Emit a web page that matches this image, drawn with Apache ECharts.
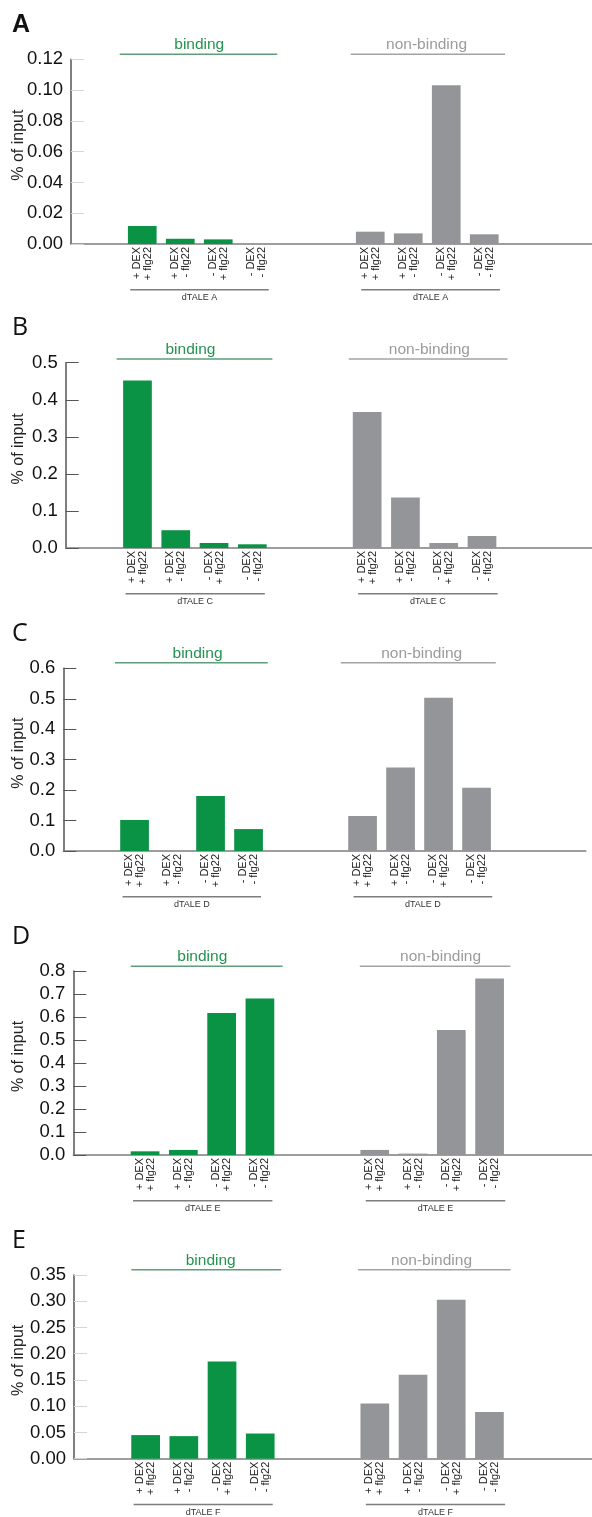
<!DOCTYPE html>
<html><head><meta charset="utf-8">
<script src="https://cdn.jsdelivr.net/npm/echarts@6/dist/echarts.min.js"></script>
<style>html,body{margin:0;padding:0;background:#fff}#c{width:592px;height:1517px}</style>
</head><body><div id="c"></div>
<script>
// ---- data ----
const panelLetters = ['A', 'B', 'C', 'D', 'E'];
const constructNames = ['dTALE A', 'dTALE C', 'dTALE D', 'dTALE E', 'dTALE F'];
const conditions = ['+ DEX\n+ flg22', '+ DEX\n- flg22', '- DEX\n+ flg22', '- DEX\n- flg22'];
const groupNames = ['binding', 'non-binding'];
const yAxisTitle = '% of input';

const bindingA = [0.0117, 0.0034, 0.0030, 0.0];
const nonBindingA = [0.0080, 0.0069, 0.1032, 0.0063];
const bindingB = [0.452, 0.048, 0.0135, 0.010];
const nonBindingB = [0.367, 0.136, 0.0135, 0.0324];
const bindingC = [0.102, 0.0, 0.181, 0.072];
const nonBindingC = [0.115, 0.274, 0.503, 0.208];
const bindingD = [0.016, 0.022, 0.617, 0.680];
const nonBindingD = [0.022, 0.006, 0.543, 0.767];
const bindingE = [0.045, 0.043, 0.185, 0.048];
const nonBindingE = [0.105, 0.160, 0.303, 0.089];

const yMax = [0.12, 0.5, 0.6, 0.8, 0.35];
const yStep = [0.02, 0.1, 0.1, 0.1, 0.05];
const yDecimals = [2, 1, 1, 1, 2];

// ---- layout / style ----
const panelValues = [
  [bindingA, nonBindingA], [bindingB, nonBindingB], [bindingC, nonBindingC],
  [bindingD, nonBindingD], [bindingE, nonBindingE]
];
const layout = [
  {left: 71,   top: 59.3,  h: 184.7, w: 9.5,  n: 56, tick: '#d6d6d6', hdr: -5,   pads: [[-22.5, 21], [-19.5, 20.8]], tx: [0, -0.7]},
  {left: 65.7, top: 362.7, h: 185.3, w: 9.57, n: 56, tick: '#555555', hdr: -3.7, pads: [[-20.8, 20.1], [-18.3, 25.5]], tx: [-4.4, 4.8]},
  {left: 63.3, top: 668.3, h: 182.7, w: 9.5,  n: 55, tick: '#555555', hdr: -5.6, pads: [[-19.5, 19.2], [-21.7, 19.2]], tx: [6, 2.1]},
  {left: 73.3, top: 971,   h: 184,   w: 9.57, n: 56, tick: '#555555', hdr: -4.7, pads: [[-14.3, 22.7], [-15, 20.8]],   tx: [-0.2, 8.4]},
  {left: 74,   top: 1275,  h: 183.7, w: 9.55, n: 56, tick: '#d6d6d6', hdr: -5.3, pads: [[-14.3, 21], [-16.7, 21.2]],   tx: [7.8, -0.6]}
];
const slotIdx = [[7, 11, 15, 19], [31, 35, 39, 43]];
const barColors = ['#0a9245', '#939598'];
const hdrTextColors = ['#23944f', '#9b9b9b'];
const hdrLineColors = ['#5e9e78', '#a3a3a3'];
const bracketPad = [[-12, 12.5], [-9, 15.7]];
const nameCenterX = 19;
const FONT = 'Liberation Sans, Arial, sans-serif';

const chart = echarts.init(document.getElementById('c'), null, {renderer: 'canvas'});

const grid = [], xAxis = [], yAxis = [], series = [];
layout.forEach((L, p) => {
  grid.push({left: L.left, top: L.top, height: L.h, width: L.n * L.w,
    containLabel: false, outerBoundsMode: 'none'});
  const cats = new Array(L.n).fill('');
  const data = new Array(L.n).fill('-');
  for (let g = 0; g < 2; g++) {
    slotIdx[g].forEach((idx, k) => {
      cats[idx] = conditions[k];
      data[idx] = {value: panelValues[p][g][k], itemStyle: {color: barColors[g]}};
    });
  }
  xAxis.push({
    type: 'category', gridIndex: p, data: cats, boundaryGap: true,
    axisLine: {show: true, lineStyle: {color: '#7d7d7d', width: 1.5}},
    axisTick: {show: false},
    axisLabel: {interval: 0, rotate: 90, margin: 3, fontSize: 11, lineHeight: 11,
      color: '#222', fontFamily: FONT}
  });
  yAxis.push({
    type: 'value', gridIndex: p, min: 0, max: yMax[p], interval: yStep[p],
    splitLine: {show: false},
    axisLine: {show: true, lineStyle: {color: '#555', width: 1.5}},
    axisTick: {show: true, inside: true, length: 13, lineStyle: {color: L.tick, width: 1}},
    axisLabel: {fontSize: 18.5, color: '#111', fontFamily: FONT, margin: 8,
      formatter: v => Number(v).toFixed(yDecimals[p])},
    name: yAxisTitle, nameLocation: 'middle', nameGap: L.left - nameCenterX - 8,
    nameMoveOverlap: false,
    nameTextStyle: {fontSize: 16, color: '#222', fontFamily: FONT, padding: [0, 0, 0, 13]}
  });
  series.push({
    type: 'bar', xAxisIndex: p, yAxisIndex: p, data: data, barWidth: 28.7,
    silent: true
  });
});

chart.setOption({animation: false, backgroundColor: '#fff', grid, xAxis, yAxis, series});

// annotations positioned through the axes' own scales
const graphic = [];
layout.forEach((L, p) => {
  const base = chart.convertToPixel({gridIndex: p}, [0, 0])[1];
  const topY = chart.convertToPixel({gridIndex: p}, [0, yMax[p]])[1];
  graphic.push({
    type: 'text', left: 12, top: L.top - 47,
    style: {text: panelLetters[p], fontSize: 25, fontWeight: p === 0 ? 'bold' : 'normal',
      fontFamily: p === 0 ? FONT : 'Open Sans, sans-serif', fill: '#111'}
  });
  for (let g = 0; g < 2; g++) {
    const first = chart.convertToPixel({gridIndex: p}, [slotIdx[g][0], 0])[0];
    const last = chart.convertToPixel({gridIndex: p}, [slotIdx[g][3], 0])[0];
    const hy = topY + L.hdr;
    const x1 = first + L.pads[g][0], x2 = last + L.pads[g][1];
    graphic.push({type: 'line', shape: {x1, y1: hy, x2, y2: hy},
      style: {stroke: hdrLineColors[g], lineWidth: 1.5}});
    graphic.push({type: 'text', x: (first + last) / 2 + L.tx[g], y: hy - 9.3,
      style: {text: groupNames[g], fontSize: 15.5, fontFamily: FONT, fill: hdrTextColors[g],
        align: 'center', verticalAlign: 'middle'}});
    const by = base + 45.7;
    const bx1 = first + bracketPad[g][0], bx2 = last + bracketPad[g][1];
    graphic.push({type: 'line', shape: {x1: bx1, y1: by, x2: bx2, y2: by},
      style: {stroke: '#7d7d7d', lineWidth: 1.5}});
    graphic.push({type: 'text', x: (bx1 + bx2) / 2, y: base + 54,
      style: {text: constructNames[p], fontSize: 9, fontFamily: FONT, fill: '#333',
        align: 'center', verticalAlign: 'middle'}});
  }
});
chart.setOption({graphic});
</script></body></html>
